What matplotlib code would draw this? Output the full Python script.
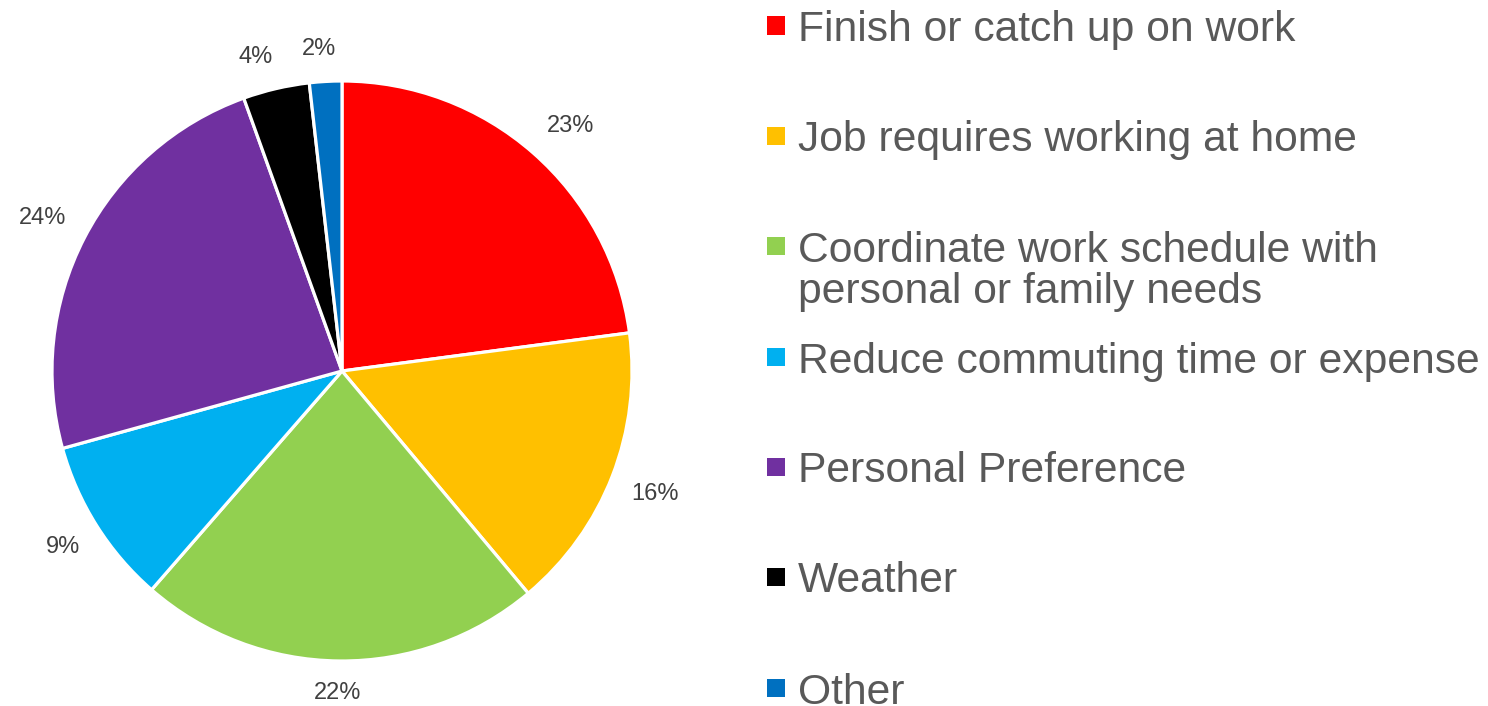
import matplotlib
matplotlib.use("Agg")
import matplotlib.pyplot as plt
import numpy as np
from matplotlib.patches import Rectangle

categories = ["Finish or catch up on work",
              "Job requires working at home",
              "Coordinate work schedule with\npersonal or family needs",
              "Reduce commuting time or expense",
              "Personal Preference",
              "Weather",
              "Other"]
values = [22.9, 16.0, 22.5, 9.3, 23.8, 3.7, 1.8]
pct_labels = ["23%", "16%", "22%", "9%", "24%", "4%", "2%"]
colors = ["#FF0000", "#FFC000", "#92D050", "#00B0F0", "#7030A0", "#000000", "#0070C0"]

plt.rcParams['font.family'] = ['Liberation Sans', 'DejaVu Sans']

W, H = 1488, 706
fig = plt.figure(figsize=(W / 100, H / 100), dpi=100)

cx, cy, R = 342, 371, 290
ax = fig.add_axes([(cx - R) / W, (H - cy - R) / H, 2 * R / W, 2 * R / H])
wedges, _ = ax.pie(values, colors=colors, startangle=90, counterclock=False,
                   radius=1.0, wedgeprops=dict(edgecolor="white", linewidth=2.3))
ax.set_xlim(-1, 1)
ax.set_ylim(-1, 1)
ax.set_aspect("equal")
ax.set_axis_off()

gap = 22 / R
for w, lab in zip(wedges, pct_labels):
    th = np.deg2rad((w.theta1 + w.theta2) / 2)
    c, s = np.cos(th), np.sin(th)
    hw = len(lab) * 7.5 / R
    hh = 10 / R
    sx = np.clip(c / 0.15, -1, 1)
    sy = np.clip(s / 0.15, -1, 1)
    x = (1 + gap) * c + sx * hw
    y = (1 + gap) * s + sy * hh
    ax.text(x, y, lab, ha="center", va="center", fontsize=17,
            color="#404040", clip_on=False)

# legend
ys = [25.5, 136, 246, 357, 467, 577, 688]
sq = 18
line_step = 41
for y, lab, col in zip(ys, categories, colors):
    fig.patches.append(Rectangle((767 / W, (H - y - sq / 2) / H), sq / W, sq / H,
                                 transform=fig.transFigure, facecolor=col,
                                 edgecolor="none"))
    for i, line in enumerate(lab.split("\n")):
        fig.text(798 / W, (H - y - 15.5 - i * line_step) / H, line, ha="left",
                 va="baseline", fontsize=30.7, color="#595959")

fig.savefig("out.png", dpi=100, facecolor="white")
